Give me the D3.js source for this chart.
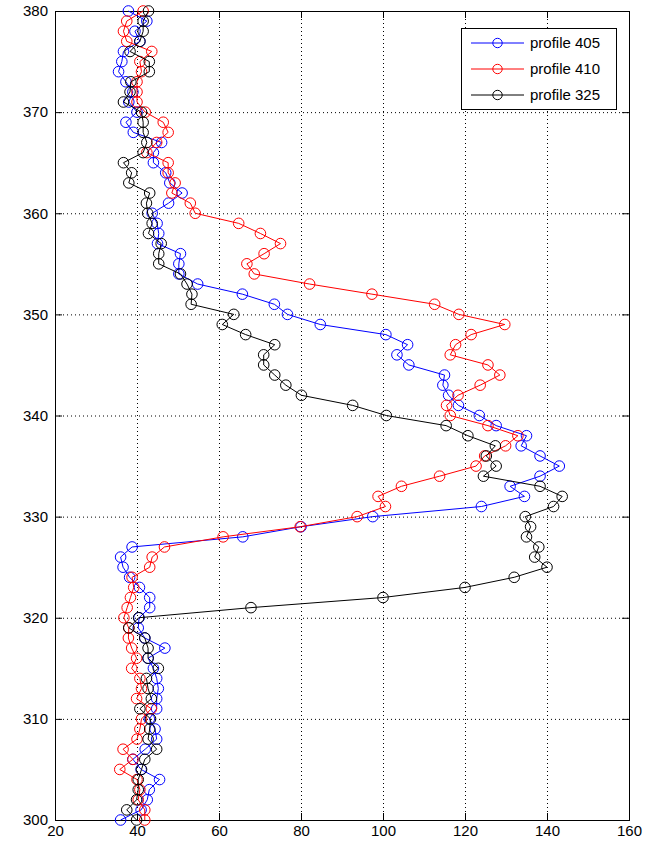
<!DOCTYPE html>
<html>
<head>
<meta charset="utf-8">
<script src="https://cdn.jsdelivr.net/npm/d3@7"></script>
<style>
  body { margin: 0; background: #fff; }
  text { font-family: "Liberation Sans", Arial, sans-serif; }
</style>
</head>
<body>
<script>
// depth (y) of every sample
var depth = [300, 301, 302, 303, 304, 305, 306, 307, 308, 309,
             310, 311, 312, 313, 314, 315, 316, 317, 318, 319,
             320, 321, 322, 323, 324, 325, 326, 327, 328, 329,
             330, 331, 332, 333, 334, 335, 336, 337, 338, 339,
             340, 341, 342, 343, 344, 345, 346, 347, 348, 349,
             350, 351, 352, 353, 354, 355, 356, 357, 358, 359,
             360, 361, 362, 363, 364, 365, 366, 367, 368, 369,
             370, 371, 372, 373, 374, 375, 376, 377, 378, 379, 380];

var profile405 = [36, 41, 42.5, 43, 45.5, 41, 39, 42, 44.8, 44.4,
                  43, 44.8, 44.8, 45.2, 44.8, 44, 42.7, 46.8, 41.9, 40.3,
                  40.5, 43.1, 43.1, 40.6, 38.2, 36.6, 36, 38.8, 65.8, 80,
                  97.5, 124, 134.5, 131, 138.3, 143, 138.3, 133.7, 135, 127.6,
                  123.5, 118.4, 116, 114.6, 115, 106.3, 103.4, 106, 100.7, 84.7,
                  76.7, 73.5, 65.7, 54.8, 50.2, 50.2, 50.6, 45, 45.3, 44.9,
                  43.7, 47.7, 51, 48, 47, 44, 44, 46, 39.1, 37.3,
                  40, 38, 39, 37.3, 35.5, 36.3, 36.7, 40.7, 39.5, 42.4, 37.9];

var profile410 = [41.9, 41.9, 40.3, 40.7, 40, 35.8, 39, 36.6, 40, 40.7,
                  41.1, 43.5, 39.9, 41.1, 40.7, 38.7, 39.9, 38.7, 37.9, 38,
                  36.8, 37.6, 38.4, 39.2, 38.8, 43.1, 43.7, 46.7, 61, 79.8,
                  93.7, 100.6, 98.8, 104.5, 113.8, 122.7, 124.8, 129.9, 132.9, 125.6,
                  116.4, 115.5, 118.3, 123.7, 128.5, 125.6, 116.4, 117.7, 121.5, 129.7,
                  118.5, 112.6, 97.3, 82.1, 68.6, 66.8, 71, 75, 70.1, 64.8,
                  54.2, 53, 48.5, 49.3, 47.6, 47.6, 42.4, 44.8, 47.6, 46.4,
                  42, 40, 40, 40, 41.1, 40.7, 43.6, 37.5, 36.7, 37.5, 41.5];

var profile325 = [39.9, 37.5, 39.9, 40.3, 40.3, 41.1, 41.9, 44.8, 42.7, 43.1,
                  43.3, 40.7, 43.5, 42.7, 42.3, 45.2, 42.7, 42.7, 41.9, 38,
                  40.4, 67.8, 100, 120, 132, 140, 137, 138, 135, 136,
                  134.7, 141.6, 143.7, 138.3, 124.5, 127.6, 125.2, 127.4, 120.7, 115.4,
                  100.8, 92.6, 80.1, 76.3, 73.6, 70.9, 70.9, 73.6, 66.5, 60.8,
                  63.6, 53.2, 53.4, 52.2, 50.6, 45.3, 45.3, 45.9, 42.8, 43.7,
                  42.6, 42.3, 43.1, 38, 38.7, 36.7, 41.5, 42.4, 41.5, 41.5,
                  41.1, 36.7, 38.3, 38.5, 43, 43, 38.3, 40.7, 41.5, 41.5, 42.8];

var seriesNames = ["profile 405", "profile 410", "profile 325"];
var seriesColors = ["#0000ff", "#ff0000", "#000000"];
var xTicks = [20, 40, 60, 80, 100, 120, 140, 160];
var yTicks = [300, 310, 320, 330, 340, 350, 360, 370, 380];

// plot box (note: "top" is taken by window.top, so use other names)
var boxLeft = 55, boxRight = 629, boxTop = 11, boxBottom = 820;

var svg = d3.select("body")
            .append("svg")
            .attr("width", 651)
            .attr("height", 844);

var x = d3.scaleLinear().domain([20, 160]).range([boxLeft, boxRight]);
var y = d3.scaleLinear().domain([300, 380]).range([boxBottom, boxTop]);

// dotted grid
svg.append("g")
   .selectAll("line")
   .data(xTicks)
   .join("line")
   .attr("x1", d => x(d) + 0.5).attr("x2", d => x(d) + 0.5)
   .attr("y1", boxTop).attr("y2", boxBottom)
   .attr("stroke", "#000")
   .attr("stroke-dasharray", "1,3");

svg.append("g")
   .selectAll("line")
   .data(yTicks)
   .join("line")
   .attr("y1", d => y(d) + 0.5).attr("y2", d => y(d) + 0.5)
   .attr("x1", boxLeft).attr("x2", boxRight)
   .attr("stroke", "#000")
   .attr("stroke-dasharray", "1,3");

// axes, ticks pointing inward like matlab
function styleAxis(g) {
  g.select(".domain").remove();
  g.selectAll("line").attr("stroke", "#000");
  g.selectAll("text").attr("font-size", "15px").attr("fill", "#000")
   .attr("font-family", "'Liberation Sans', Arial, sans-serif");
}

svg.append("g")
   .attr("transform", "translate(0," + boxBottom + ")")
   .call(d3.axisBottom(x).tickValues(xTicks).tickSizeInner(-7).tickSizeOuter(0).tickPadding(5))
   .call(styleAxis);

svg.append("g")
   .attr("transform", "translate(0," + boxTop + ")")
   .call(d3.axisTop(x).tickValues(xTicks).tickSizeInner(-7).tickSizeOuter(0).tickFormat(""))
   .call(styleAxis);

svg.append("g")
   .attr("transform", "translate(" + boxLeft + ",0)")
   .call(d3.axisLeft(y).tickValues(yTicks).tickSizeInner(-7).tickSizeOuter(0).tickPadding(7))
   .call(styleAxis);

svg.append("g")
   .attr("transform", "translate(" + boxRight + ",0)")
   .call(d3.axisRight(y).tickValues(yTicks).tickSizeInner(-7).tickSizeOuter(0).tickFormat(""))
   .call(styleAxis);

svg.append("rect")
   .attr("x", boxLeft + 0.5)
   .attr("y", boxTop + 0.5)
   .attr("width", boxRight - boxLeft)
   .attr("height", boxBottom - boxTop)
   .attr("fill", "none")
   .attr("stroke", "#000");

// the three profiles
var allSeries = [profile405, profile410, profile325];
var line = d3.line()
             .x(d => x(d[0]))
             .y(d => y(d[1]));

allSeries.forEach(function (vals, i) {
  var pts = vals.map((v, j) => [v, depth[j]]);
  var g = svg.append("g");
  g.append("path")
   .attr("d", line(pts))
   .attr("fill", "none")
   .attr("stroke", seriesColors[i])
   .attr("stroke-width", 1);
  g.selectAll("circle")
   .data(pts)
   .join("circle")
   .attr("cx", d => x(d[0]))
   .attr("cy", d => y(d[1]))
   .attr("r", 5.3)
   .attr("fill", "none")
   .attr("stroke", seriesColors[i])
   .attr("stroke-width", 1);
});

// legend
var legend = svg.append("g");
legend.append("rect")
      .attr("x", 461.5)
      .attr("y", 28.5)
      .attr("width", 155)
      .attr("height", 81)
      .attr("fill", "#fff")
      .attr("stroke", "#000");

seriesNames.forEach(function (name, i) {
  var ly = 43 + i * 26;
  legend.append("line")
        .attr("x1", 471).attr("x2", 524)
        .attr("y1", ly).attr("y2", ly)
        .attr("stroke", seriesColors[i]);
  legend.append("circle")
        .attr("cx", 497.5).attr("cy", ly)
        .attr("r", 4.7)
        .attr("fill", "none")
        .attr("stroke", seriesColors[i]);
  legend.append("text")
        .attr("x", 530)
        .attr("y", ly)
        .attr("dy", "0.35em")
        .attr("font-size", "15px")
        .attr("fill", "#000")
        .text(name);
});
</script>
</body>
</html>
